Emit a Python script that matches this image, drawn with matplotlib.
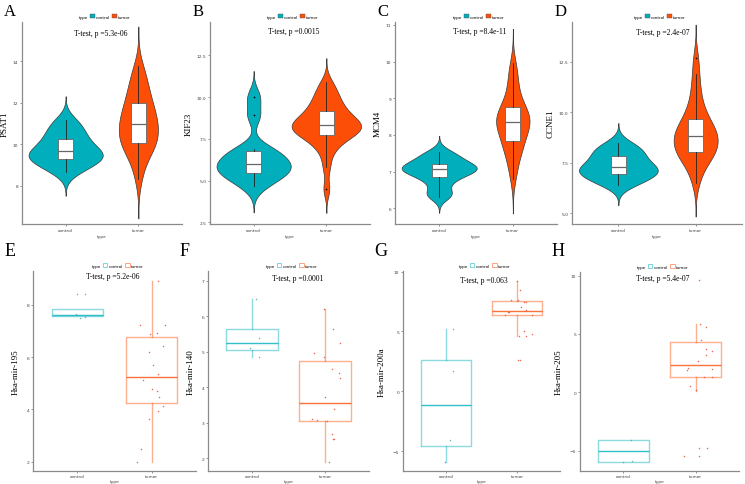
import numpy as np
import matplotlib.pyplot as plt
from matplotlib.patches import Patch

W, H = 745, 485
plt.rcParams['font.family'] = ['DejaVu Sans']
SERIF = ['Liberation Serif', 'DejaVu Serif']

groups = ['control', 'tumor']
colors = ['#00AFBB', '#FC4E07']

# top row: expression values (violin + box)
psat1_control = [8.68, 8.95, 9.15, 9.29, 9.4, 9.5, 9.65, 9.8, 10.0, 10.26, 10.5, 10.8, 11.15]
psat1_tumor = [8.3, 8.9, 9.3, 9.55, 9.75, 9.9, 10.0, 10.06, 10.2, 10.35, 10.5, 10.6, 10.7, 10.85, 11.0,
               11.1, 11.2, 11.35, 11.5, 11.65, 11.8, 11.98, 12.15, 12.35, 12.6, 12.85, 13.1, 13.4, 13.8]
kif23_control = [4.66, 5.1, 5.35, 5.46, 5.7, 5.9, 6.0, 6.2, 6.5, 6.76, 6.9, 8.9, 10.0]
kif23_tumor = [4.5, 5.8, 6.6, 7.0, 7.3, 7.5, 7.65, 7.74, 7.85, 7.95, 8.05, 8.12, 8.2, 8.27, 8.34,
               8.42, 8.5, 8.6, 8.7, 8.85, 9.0, 9.14, 9.3, 9.5, 9.7, 9.95, 10.2, 10.5, 10.9]
mcm4_control = [6.32, 6.45, 6.7, 6.85, 6.95, 7.0, 7.07, 7.1, 7.15, 7.22, 7.3, 7.42, 7.53]
mcm4_tumor = [6.8, 7.1, 7.3, 7.45, 7.6, 7.7, 7.78, 7.83, 7.95, 8.05, 8.12, 8.2, 8.26, 8.3, 8.34,
              8.4, 8.45, 8.5, 8.55, 8.6, 8.68, 8.75, 8.85, 8.95, 9.1, 9.3, 9.5, 9.7, 9.95]
ccne1_control = [6.4, 6.6, 6.8, 6.93, 7.05, 7.15, 7.27, 7.4, 7.6, 7.82, 8.0, 8.2, 8.45]
ccne1_tumor = [6.5, 7.0, 7.35, 7.6, 7.75, 7.85, 7.95, 8.02, 8.15, 8.3, 8.4, 8.5, 8.6, 8.7, 8.81,
               8.9, 9.0, 9.1, 9.2, 9.35, 9.5, 9.65, 9.85, 10.1, 10.4, 10.8, 11.3, 11.9, 12.67]

# bottom row: box stats (q1, median, q3, whisker low, whisker high) and points
mir195_box = [[7.57, 7.61, 7.82, 7.57, 7.82], [4.24, 5.24, 6.77, 2.0, 8.91]]
mir195_control = [8.43, 8.43, 7.63, 7.55, 7.5]
mir195_tumor = [8.91, 7.22, 7.22, 6.88, 6.93, 6.43, 6.2, 5.69, 5.37, 5.12, 4.79, 4.69, 4.47, 4.12,
                3.93, 3.64, 2.5, 2.0]
mir140_box = [[5.04, 5.23, 5.65, 4.85, 6.49], [3.04, 3.56, 4.75, 1.89, 6.21]]
mir140_control = [6.49, 5.39, 5.11, 4.84]
mir140_tumor = [6.21, 5.65, 5.23, 4.95, 4.85, 4.51, 4.4, 4.27, 3.72, 3.39, 3.09, 3.07, 3.04, 2.68,
                2.55, 2.53, 1.89]
mir200a_box = [[-4.55, -1.18, 2.6, -5.89, 5.2], [6.38, 6.71, 7.53, 4.58, 9.23]]
mir200a_control = [5.2, 1.73, -4.05, -5.89]
mir200a_tumor = [9.23, 8.49, 7.64, 7.64, 7.5, 7.5, 7.04, 6.66, 6.63, 6.77, 6.41, 6.38, 5.07, 4.79,
                 4.58, 4.58, 2.6, 2.6]
mir205_box = [[-5.92, -4.99, -4.11, -5.92, -4.11], [1.35, 2.37, 4.31, 0.14, 5.89]]
mir205_control = [-4.11, -5.89, -5.97]
mir205_tumor = [9.6, 5.86, 5.61, 4.48, 3.72, 3.55, 3.21, 2.65, 2.06, 1.92, 2.03, 1.35, 1.3, 0.56,
                0.17, -4.79, -4.79, -5.41, -5.41]

# jitter offsets
mir195_jit = [[-0.01, 0.1, -0.02, 0.1, 0.04],
              [0.09, -0.16, 0.18, -0.02, 0.07, 0.16, -0.04, 0.02, 0.09, -0.12, 0.01, 0.07, 0.1, 0.16,
               0.09, -0.04, -0.14, -0.2]]
mir140_jit = [[0.05, 0.1, -0.02, 0.1],
              [-0.01, 0.11, 0.2, -0.15, -0.02, 0.09, 0.19, 0.2, 0.0, 0.12, -0.18, -0.11, 0.03, 0.09,
               0.12, 0.11, 0.05]]
mir200a_jit = [[0.1, 0.1, 0.06, -0.01],
               [0.0, 0.04, -0.09, 0.01, 0.1, 0.13, 0.06, -0.13, -0.11, 0.12, 0.21, -0.17, 0.1, 0.21,
                0.02, 0.13, 0.01, 0.04]]
mir205_jit = [[0.11, 0.12, 0.0],
              [0.04, 0.06, 0.14, 0.07, 0.15, 0.22, 0.15, 0.03, -0.1, -0.12, 0.23, 0.22, 0.11, -0.08,
               0.01, 0.04, 0.16, -0.16, 0.04]]

# layout in pixels: left, right, top, bottom
top_panels = [
    ('A', 'PSAT1', psat1_control, psat1_tumor, 'T-test, p =5.3e-06', (22, 182, 23, 225),
     (6.15, 15.9), [8, 10, 12, 14], ['8', '10', '12', '14'], 15.39, 1.48),
    ('B', 'KIF23', kif23_control, kif23_tumor, 'T-test, p =0.0015', (210, 370, 23, 225),
     (2.4, 14.5), [2.5, 5, 7.5, 10, 12.5], ['2.5', '5.0', '7.5', '10.0', '12.5'], 13.96, 1.55),
    ('C', 'MCM4', mcm4_control, mcm4_tumor, 'T-test, p =8.4e-11', (395, 557, 23, 225),
     (5.57, 11.08), [6, 7, 8, 9, 10, 11], ['6', '7', '8', '9', '10', '11'], 10.83, 1.55),
    ('D', 'CCNE1', ccne1_control, ccne1_tumor, 'T-test, p =2.4e-07', (572, 742, 23, 225),
     (4.46, 14.47), [5, 7.5, 10, 12.5], ['5.0', '7.5', '10.0', '12.5'], 13.97, 1.58),
]
bottom_panels = [
    ('E', 'Hsa-mir-195', mir195_box, mir195_control, mir195_tumor, mir195_jit, 'T-test, p =5.2e-06',
     (33, 196, 272, 472), (1.65, 9.29), [2, 4, 6, 8], 9.08, 1.47),
    ('F', 'Hsa-mir-140', mir140_box, mir140_control, mir140_tumor, mir140_jit, 'T-test, p =0.0001',
     (208, 369, 272, 472), (1.64, 7.27), [2, 3, 4, 5, 6, 7], 7.08, 1.62),
    ('G', 'Hsa-mir-200a', mir200a_box, mir200a_control, mir200a_tumor, mir200a_jit, 'T-test, p =0.063',
     (403, 560, 272, 472), (-6.66, 10.05), [-5, 0, 5, 10], 9.3, 1.53),
    ('H', 'Hsa-mir-205', mir205_box, mir205_control, mir205_tumor, mir205_jit, 'T-test, p =5.4e-07',
     (580, 739, 273, 472), (-6.73, 10.3), [-5, 0, 5, 10], 9.8, 1.55),
]


def nrd0(x):
    x = np.asarray(x)
    q75, q25 = np.percentile(x, [75, 25])
    lo = min(x.std(ddof=1), (q75 - q25) / 1.34)
    return 0.9 * lo * len(x) ** -0.2


def density(x):
    x = np.asarray(x)
    bw = nrd0(x)
    grid = np.linspace(x.min() - 3 * bw, x.max() + 3 * bw, 400)
    d = np.exp(-0.5 * ((grid[:, None] - x[None, :]) / bw) ** 2).sum(1)
    d = d / (len(x) * bw * np.sqrt(2 * np.pi))
    return grid, d


def add_axes(fig, box):
    l, r, t, b = box
    return fig.add_axes([l / W, 1 - b / H, (r - l) / W, (b - t) / H])


def style(ax, ylabel, ylim, xpad, ypad):
    ax.set_xlim(0.4, 2.6)
    ax.set_ylim(*ylim)
    ax.set_xticks([1, 2])
    ax.set_xticklabels(groups)
    for s in ['top', 'right']:
        ax.spines[s].set_visible(False)
    for s in ['left', 'bottom']:
        ax.spines[s].set_color('#8a8a8a')
        ax.spines[s].set_linewidth(0.9)
    ax.tick_params(labelsize=3.2, length=1.5, width=0.4, colors='#444444', pad=1.2)
    ax.tick_params(axis='x', pad=xpad)
    ax.set_xlabel('type', fontsize=3.2, labelpad=xpad, color='#444444')
    ax.set_ylabel(ylabel, fontsize=6.5, family=SERIF, labelpad=ypad)


def legend(ax, handles):
    h = [Patch(visible=False)] + handles
    leg = ax.legend(h, ['type'] + groups, loc='lower center', bbox_to_anchor=(0.5, 1.0), ncol=3,
                    frameon=False, fontsize=3, handlelength=1.1, handleheight=1.1,
                    handletextpad=0.3, columnspacing=0.5, borderaxespad=0.4)
    return leg


fig = plt.figure(figsize=(W / 100, H / 100), dpi=100)

for letter, ylabel, ctrl, tum, title, box, ylim, ticks, ticklabels, ty, tx in top_panels:
    ax = add_axes(fig, box)
    dens = [density(ctrl), density(tum)]
    dmax = max(d.max() for g, d in dens)
    for i, (g, d) in enumerate(dens):
        half = d / dmax * 0.51
        ax.fill_betweenx(g, i + 1 - half, i + 1 + half, facecolor=colors[i],
                         edgecolor='#3a3a3a', linewidth=0.5, zorder=2)
    ax.boxplot([ctrl, tum], positions=[1, 2], widths=0.2, patch_artist=True, showcaps=False,
               boxprops=dict(facecolor='white', edgecolor='#666666', linewidth=0.6),
               medianprops=dict(color='#666666', linewidth=0.9),
               whiskerprops=dict(color='#222222', linewidth=0.6),
               flierprops=dict(marker='o', markersize=1.2, markerfacecolor='black',
                               markeredgecolor='none'),
               zorder=3)
    style(ax, ylabel, ylim, 1.5, 3.0)
    ax.set_yticks(ticks)
    ax.set_yticklabels(ticklabels)
    ax.text(tx, ty, title, ha='center', va='center', fontsize=5.5, family=SERIF)
    legend(ax, [Patch(facecolor=c, edgecolor='#555555', linewidth=0.3) for c in colors])
    fig.text(box[0] / W - 0.024, 1 - 4 / H, letter, fontsize=12, family=SERIF, va='top', ha='left')

point_colors = ['#4fa7ad', '#e8503a']
for letter, ylabel, stats, ctrl, tum, jit, title, box, ylim, ticks, ty, tx in bottom_panels:
    ax = add_axes(fig, box)
    for i, (st, pts) in enumerate(zip(stats, [ctrl, tum])):
        q1, med, q3, lo, hi = st
        ax.bxp([dict(q1=q1, med=med, q3=q3, whislo=lo, whishi=hi, fliers=[])], positions=[i + 1],
               widths=0.7, showcaps=False, showfliers=False,
               boxprops=dict(color=colors[i], alpha=0.45, linewidth=1.0),
               whiskerprops=dict(color=colors[i], alpha=0.45, linewidth=1.0),
               medianprops=dict(color=colors[i], alpha=0.8, linewidth=1.0))
        ax.scatter(i + 1 + np.asarray(jit[i]), pts, s=1.2, color=point_colors[i], alpha=0.85,
                   linewidths=0, zorder=3)
    style(ax, ylabel, ylim, 0.6, 5)
    ax.set_yticks(ticks)
    ax.text(tx, ty, title, ha='center', va='center', fontsize=5.5, family=SERIF)
    legend(ax, [Patch(facecolor='white', edgecolor=c, linewidth=0.6, alpha=0.6) for c in colors])
    fig.text(box[0] / W - 0.038, 1 - 243 / H, letter, fontsize=13, family=SERIF, va='top', ha='left')

fig.savefig('out.png', dpi=100)
